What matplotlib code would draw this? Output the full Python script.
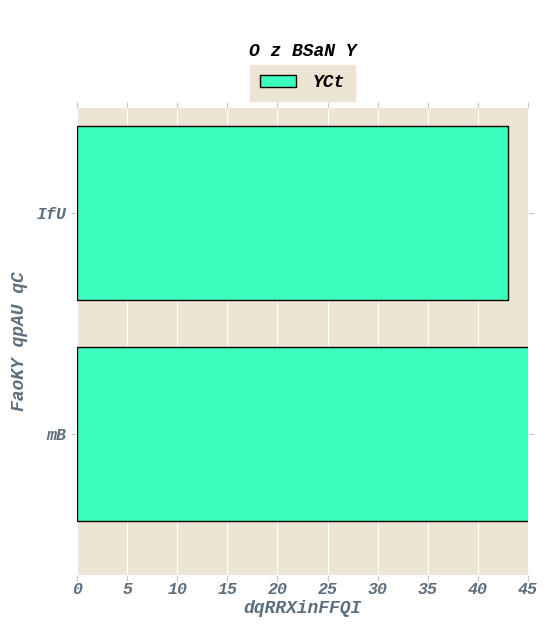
import matplotlib
matplotlib.use("Agg")
import matplotlib.pyplot as plt

# Dane wykresu
kategorie = ["mB", "IfU"]
wartosci = [47, 43]
seria = "YCt"
tytul = "O z BSaN Y"
os_x = "dqRRXinFFQI"
os_y = "FaoKY qpAU qC"
ticki_x = [0, 5, 10, 15, 20, 25, 30, 35, 40, 45]

plt.rcParams['font.family'] = ['Liberation Mono', 'DejaVu Sans Mono']
plt.rcParams['font.weight'] = 'bold'
plt.rcParams['font.style'] = 'italic'
plt.rcParams['axes.labelweight'] = 'bold'

szary = '#5d6e7c'
tlo = '#ede5d4'

fig = plt.figure(figsize=(5.53, 6.32), dpi=100)
ax = fig.add_axes([0.139, 0.090, 0.816, 0.739])
ax.set_facecolor(tlo)

pozycje = list(range(len(kategorie)))
ax.barh(pozycje, wartosci, height=0.787, color='#3cffbe', edgecolor='black',
        linewidth=1.0, label=seria, zorder=2)

ax.set_xlim(0, 45)
ax.set_ylim(-0.638, 1.475)
ax.set_xticks(ticki_x)
ax.set_yticks(pozycje)
ax.set_yticklabels(kategorie)

ax.grid(axis='x', color='white', linewidth=0.8, zorder=0)
ax.set_axisbelow(True)
for s in ax.spines.values():
    s.set_visible(False)

ax.tick_params(axis='both', which='both', direction='out', length=4,
               color='#c8c8c8', labelcolor=szary, labelsize=12,
               top=True, right=True)
ax.tick_params(axis='x', pad=1)

ax.set_xlabel(os_x, color=szary, fontsize=13, labelpad=2, fontweight='bold')
ax.set_ylabel(os_y, color=szary, fontsize=13, labelpad=6, fontweight='bold')

fig.text(0.548, 0.918, tytul, ha='center', va='center', fontsize=13,
         color='black', fontweight='bold', fontstyle='italic')

leg = ax.legend(loc='lower center', bbox_to_anchor=(0.5, 0.995), ncol=1,
                frameon=True, fancybox=False, fontsize=13, handlelength=2.0,
                borderpad=0.55, handletextpad=0.9)
leg.get_frame().set_facecolor(tlo)
leg.get_frame().set_edgecolor(tlo)
leg.get_frame().set_alpha(1)
for t in leg.get_texts():
    t.set_color('black')

fig.savefig("out.png", dpi=100)
